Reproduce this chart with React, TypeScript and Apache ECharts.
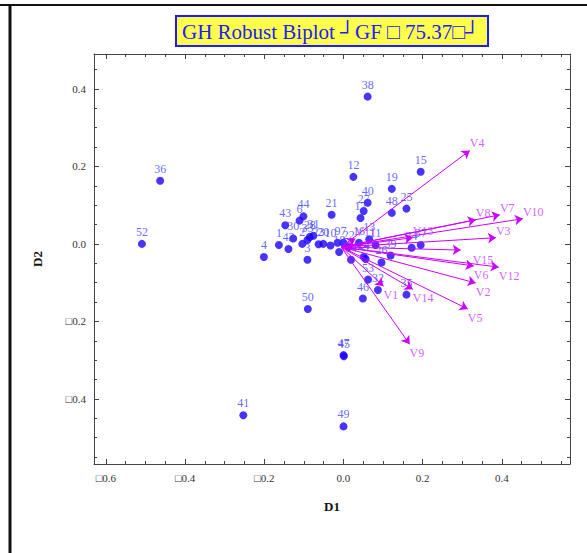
import React, { useEffect, useRef } from "react";
import * as echarts from "echarts";

// Observation scores (D1, D2) with labels
const obsLabels = ["38","36","52","12","15","19","40","27","17","48","25","21","44","6","43","1","42","30","33","28","31","2","4","3","23","20","10","9","18","14","24","13","11","5","26","39","34","37","53","32","46","35","50","45","47","49","41","16","7","22"];
const obsD1 = [0.061,-0.463,-0.509,0.025,0.195,0.122,0.061,0.051,0.043,0.122,0.159,-0.030,-0.101,-0.111,-0.147,-0.163,-0.139,-0.127,-0.091,-0.085,-0.076,-0.104,-0.201,-0.091,-0.063,-0.051,-0.033,-0.015,-0.011,0.019,0.051,0.065,0.081,0.056,0.096,0.119,0.172,0.195,0.062,0.087,0.049,0.159,-0.090,0.001,0.000,0.000,-0.253,0.039,0.000,0.013];
const obsD2 = [0.380,0.163,0.000,0.173,0.186,0.142,0.106,0.085,0.067,0.080,0.091,0.075,0.071,0.060,0.048,-0.003,-0.013,0.014,0.010,0.018,0.021,0.000,-0.034,-0.041,-0.001,0.000,-0.004,0.003,-0.021,-0.041,-0.034,0.012,-0.003,-0.039,-0.048,-0.030,-0.010,-0.003,-0.092,-0.119,-0.141,-0.131,-0.168,-0.290,-0.287,-0.471,-0.442,0.003,0.003,-0.008];

// Variable vectors (arrow tips)
const varLabels = ["V4","V8","V7","V10","V3","V13","V15","V6","V12","V2","V5","V9","V1","V14","V11"];
const varD1 = [0.319,0.334,0.395,0.453,0.385,0.175,0.296,0.329,0.392,0.334,0.314,0.167,0.101,0.175,0.030];
const varD2 = [0.241,0.062,0.075,0.065,0.016,0.016,-0.016,-0.057,-0.060,-0.101,-0.168,-0.259,-0.109,-0.117,0.013];
const arrowOrigin = [-0.006, -0.008];

const majorTicksX = [-0.6, -0.4, -0.2, 0.0, 0.2, 0.4];
const majorTicksY = [-0.4, -0.2, 0.0, 0.2, 0.4];
const xMin = -0.63, xMax = 0.572, yMin = -0.568, yMax = 0.49;

const FONT = "Liberation Serif";

function minorValues(min: number, max: number): number[] {
  const out: number[] = [];
  for (let i = Math.ceil(min / 0.05); i * 0.05 <= max + 1e-9; i++) {
    const v = Math.round(i * 5) / 100;
    if (Math.abs(Math.round(v * 5) - v * 5) > 1e-6) out.push(v);
  }
  return out;
}

const fmt = (v: number) => (v < 0 ? "\u25A1" + Math.abs(v).toFixed(1) : v.toFixed(1));

export default function App() {
  const ref = useRef<HTMLDivElement>(null);
  useEffect(() => {
    if (!ref.current) return;
    const chart = echarts.init(ref.current, null, { renderer: "svg" });
    const axisLineStyle = { color: "#444", width: 1 };
    const mkX = (pos: string, major: boolean, main: boolean) => ({
      type: "value", position: pos, min: xMin, max: xMax, gridIndex: 0,
      axisLine: { show: major, onZero: false, lineStyle: axisLineStyle },
      splitLine: { show: false },
      axisTick: { show: true, inside: true, length: major ? 5 : 3, customValues: major ? majorTicksX : minorValues(xMin, xMax), lineStyle: { color: "#444" } },
      axisLabel: main ? { show: true, customValues: majorTicksX, formatter: fmt, color: "#333", fontFamily: FONT, fontSize: 11, margin: 8 } : { show: false },
      name: main ? "D1" : "", nameLocation: "middle", nameGap: 36,
      nameTextStyle: { fontFamily: FONT, fontWeight: "bold", fontSize: 13, color: "#111" },
    });
    const mkY = (pos: string, major: boolean, main: boolean) => ({
      type: "value", position: pos, min: yMin, max: yMax, gridIndex: 0,
      axisLine: { show: major, onZero: false, lineStyle: axisLineStyle },
      splitLine: { show: false },
      axisTick: { show: true, inside: true, length: major ? 5 : 3, customValues: major ? majorTicksY : minorValues(yMin, yMax), lineStyle: { color: "#444" } },
      axisLabel: main ? { show: true, customValues: majorTicksY, formatter: fmt, color: "#333", fontFamily: FONT, fontSize: 11, margin: 8 } : { show: false },
      name: main ? "D2" : "", nameLocation: "middle", nameGap: 50,
      nameTextStyle: { fontFamily: FONT, fontWeight: "bold", fontSize: 13, color: "#111" },
    });

    const points = obsLabels.map((n, i) => ({ name: n, value: [obsD1[i], obsD2[i]] }));
    const arrows = varLabels.map((n, i) => ({ name: n, coords: [arrowOrigin, [varD1[i], varD2[i]]] }));
    const tips = varLabels.map((n, i) => ({
      name: n,
      value: [varD1[i], varD2[i]],
      label: { offset: n === "V15" ? [12, 10] : [0, varD2[i] > 0 ? -7 : 9] },
    }));

    chart.setOption({
      animation: false,
      backgroundColor: "#fff",
      grid: { left: 94, right: 17, top: 54, bottom: 89 },
      xAxis: [mkX("bottom", true, true), mkX("bottom", false, false), mkX("top", true, false), mkX("top", false, false)],
      yAxis: [mkY("left", true, true), mkY("left", false, false), mkY("right", true, false), mkY("right", false, false)],
      graphic: [
        { type: "line", shape: { x1: 0, y1: 5, x2: 587, y2: 5 }, style: { stroke: "#111", lineWidth: 2 } },
        { type: "line", shape: { x1: 10, y1: 6, x2: 10, y2: 553 }, style: { stroke: "#111", lineWidth: 3 } },
        { type: "rect", shape: { x: 176, y: 16, width: 312, height: 30 }, style: { fill: "#ffff4a", stroke: "#1c1cff", lineWidth: 2 } },
        { type: "text", x: 182, y: 32, style: { text: "GH Robust Biplot \u2518GF \u25A1 75.37\u25A1\u2518", fill: "#2020ff", font: "21px 'Liberation Serif'", verticalAlign: "middle" } },
      ],
      series: [
        {
          type: "scatter", xAxisIndex: 0, yAxisIndex: 0, data: points, symbolSize: 8,
          itemStyle: { color: "#1a00ff" },
          label: { show: true, position: "top", distance: 2, formatter: "{b}", color: "#4040ff", fontFamily: FONT, fontSize: 12 },
          z: 2,
        },
        {
          type: "lines", coordinateSystem: "cartesian2d", xAxisIndex: 0, yAxisIndex: 0, data: arrows,
          symbol: ["none", "arrow"], symbolSize: [0, 8],
          lineStyle: { color: "#cc00ff", width: 1, opacity: 1 },
          z: 3,
        },
        {
          type: "scatter", xAxisIndex: 0, yAxisIndex: 0, data: tips, symbolSize: 0,
          itemStyle: { color: "#cc00ff" },
          label: { show: true, position: "right", distance: 0, formatter: "{b}", color: "#cc33ff", fontFamily: FONT, fontSize: 12 },
          z: 4,
        },
      ],
    });
    return () => chart.dispose();
  }, []);
  return <div ref={ref} style={{ position: "fixed", left: 0, top: 0, width: 587, height: 553 }} />;
}
